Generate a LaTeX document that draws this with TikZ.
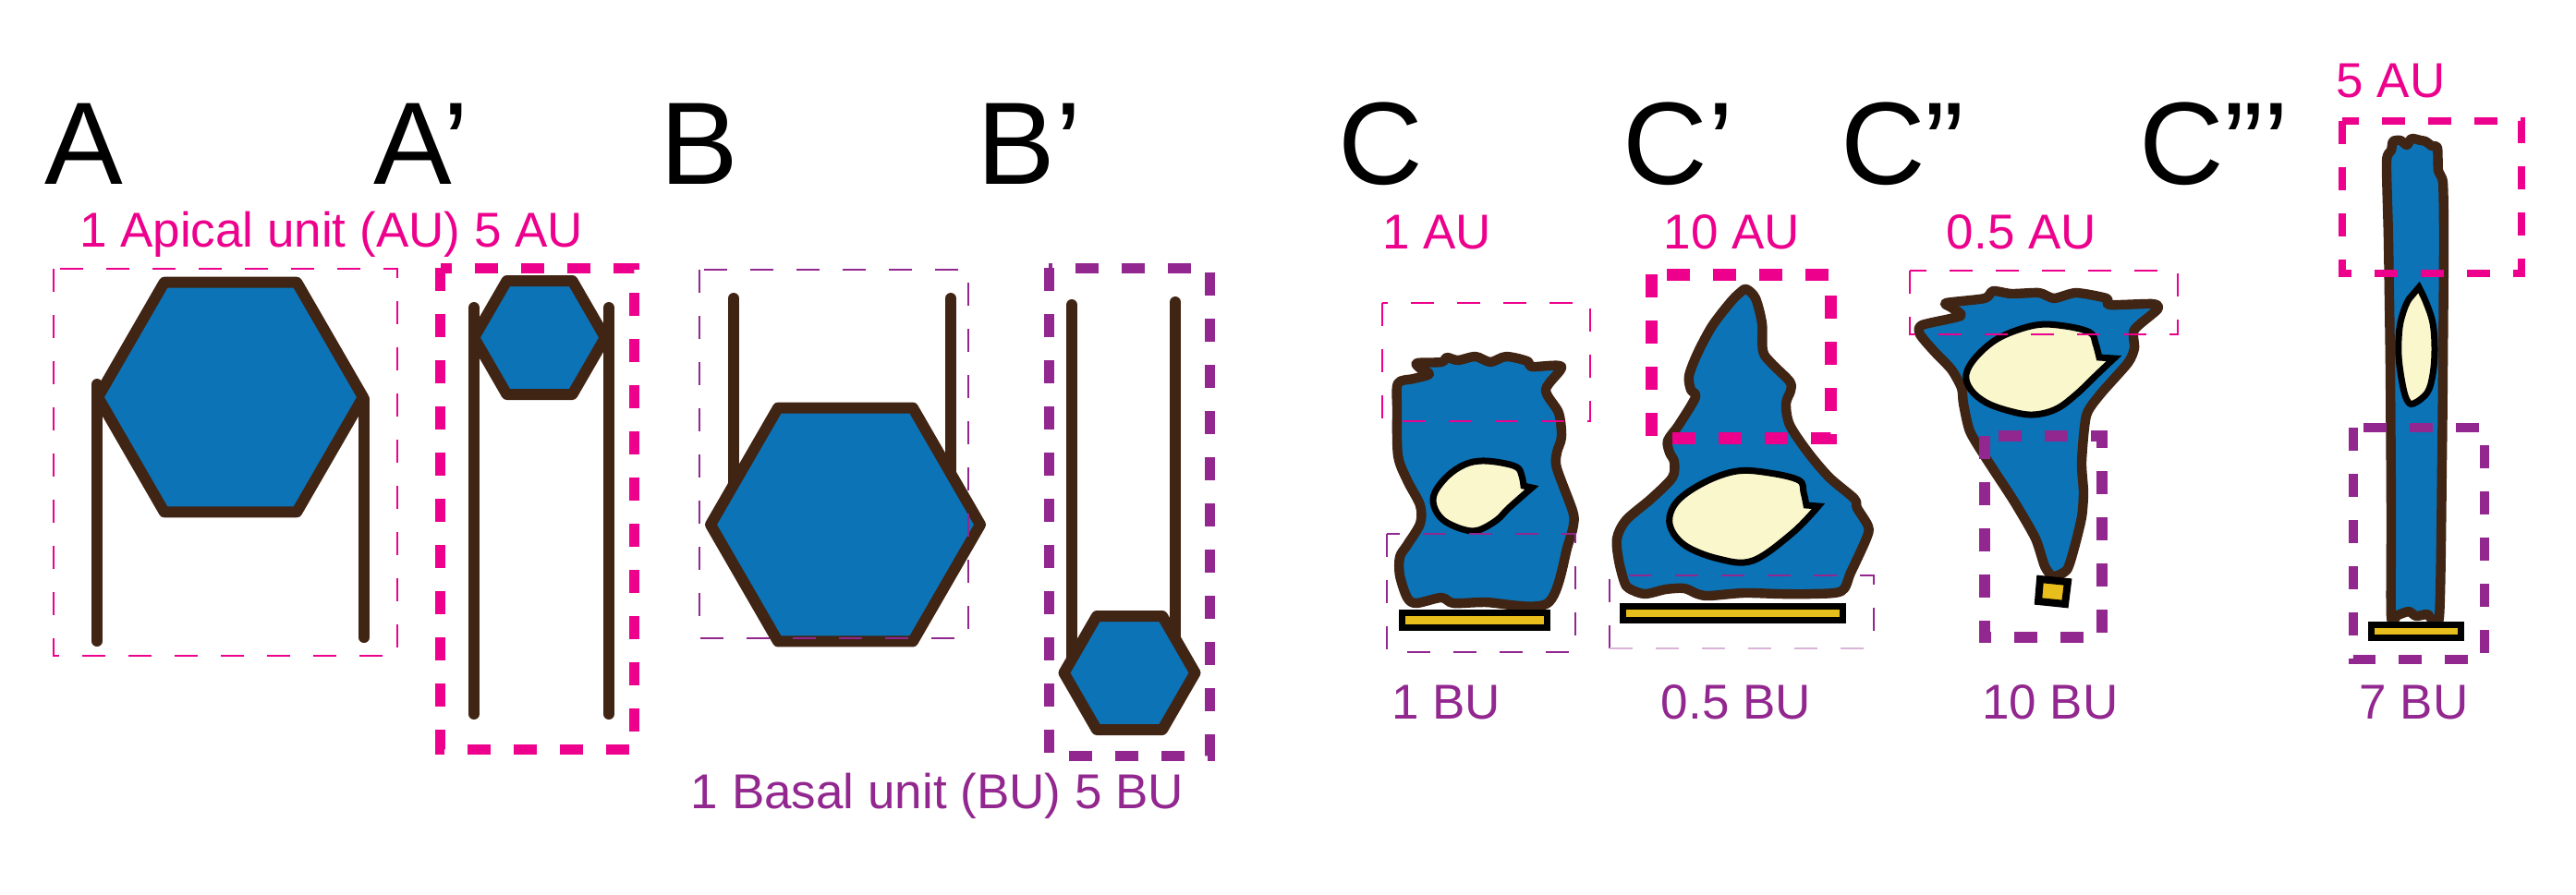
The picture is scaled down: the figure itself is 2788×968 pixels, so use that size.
\documentclass[tikz,border=0pt]{standalone}
\usepackage{fontspec}
\setmainfont{Liberation Sans}
\definecolor{cellblue}{RGB}{12,115,183}
\definecolor{brownc}{RGB}{64,36,20}
\definecolor{magentaU}{RGB}{236,0,140}
\definecolor{purpleU}{RGB}{146,39,143}
\definecolor{nucfill}{RGB}{250,247,204}
\definecolor{baryellow}{RGB}{232,190,28}
\newcommand\bigfont{\fontsize{31.75pt}{36pt}\selectfont}
\newcommand\unitfont{\fontsize{13.25pt}{16pt}\selectfont}
\newcommand\myhex[3]{%
  \draw[hexcell] ({#1+#3},#2) -- ({#1+0.5*#3},{#2-0.866*#3}) -- ({#1-0.5*#3},{#2-0.866*#3})
    -- ({#1-#3},#2) -- ({#1-0.5*#3},{#2+0.866*#3}) -- ({#1+0.5*#3},{#2+0.866*#3}) -- cycle;}
\tikzset{
  brownwire/.style={draw=brownc, line width=3pt, line cap=round},
  hexcell/.style={draw=brownc, fill=cellblue, line width=3pt, line join=round},
  cellshape/.style={draw=brownc, fill=cellblue, line width=2.6pt, line join=round},
  nucleus/.style={draw=black, fill=nucfill, line width=1.75pt, line join=miter},
  basalbar/.style={draw=black, fill=baryellow, line width=1.75pt},
  thinbox/.style={line width=0.4pt, dash pattern=on 6.25pt off 6.25pt},
  thickbox/.style={dash pattern=on 6.25pt off 6.25pt},
  biglabel/.style={font=\bigfont, anchor=base, inner sep=0pt},
  unitlabel/.style={font=\unitfont, anchor=base, inner sep=0pt},
}
\begin{document}
\begin{tikzpicture}[x=0.25pt,y=-0.25pt]
\useasboundingbox[fill=white] (0,0) rectangle (2788,968);

% ---------- panel letters ----------
\node[biglabel] (lA)   at (90.5,199) {A};
\node[biglabel] (lAp)  at (456,199) {A’};
\node[biglabel] (lB)   at (757,199) {B};
\node[biglabel] (lBp)  at (1114,199) {B’};
\node[biglabel] (lC)   at (1494,199) {C};
\node[biglabel] (lCp)  at (1816.5,199) {C’};
\node[biglabel] (lCpp) at (2059,199) {C”};
\node[biglabel] (lCppp) at (2397,199) {C”’};

% ---------- unit labels ----------
\node[unitlabel, text=magentaU] (tAU)  at (358.5,267) {1 Apical unit (AU) 5 AU};
\node[unitlabel, text=purpleU]  (tBU)  at (1014.5,875) {1 Basal unit (BU) 5 BU};
\node[unitlabel, text=magentaU] (tC1)  at (1555,269) {1 AU};
\node[unitlabel, text=magentaU] (tC2)  at (1874.5,269) {10 AU};
\node[unitlabel, text=magentaU] (tC3)  at (2188,269) {0.5 AU};
\node[unitlabel, text=magentaU] (tC4)  at (2587.5,105) {5 AU};
\node[unitlabel, text=purpleU]  (bC1)  at (1565,778) {1 BU};
\node[unitlabel, text=purpleU]  (bC2)  at (1879,778) {0.5 BU};
\node[unitlabel, text=purpleU]  (bC3)  at (2219,778) {10 BU};
\node[unitlabel, text=purpleU]  (bC4)  at (2612.5,778) {7 BU};

% ---------- A ----------
\draw[brownwire] (105,416) -- (105,694);
\draw[brownwire] (394,432) -- (394,690);
\myhex{249.5}{430}{143.5}
\draw[thinbox, magentaU] (58,291) rectangle (430,710);

% ---------- A' ----------
\draw[brownwire] (513,333) -- (513,773);
\draw[brownwire] (659,333) -- (659,773);
\myhex{584}{365.5}{71}
\draw[thickbox, magentaU, line width=2.75pt] (476.5,290) rectangle (686.5,811);

% ---------- B ----------
\draw[brownwire] (794,323) -- (794,540);
\draw[brownwire] (1029,323) -- (1029,530);
\myhex{915}{568}{146}
\draw[thinbox, purpleU] (757,292) rectangle (1048,691);

% ---------- B' ----------
\draw[brownwire] (1160,330) -- (1160,725);
\draw[brownwire] (1272,327) -- (1272,705);
\myhex{1222.5}{728.5}{71}
\draw[thickbox, purpleU, line width=2.75pt] (1135,290) rectangle (1309,818);

% ---------- C ----------
\draw[cellshape] plot[smooth cycle, tension=0.5] coordinates {
 (1513,415) (1530,410) (1547,405) (1536,398) (1534,393) (1560,392) (1566,387)
 (1578,390) (1597,386) (1613,392) (1630,386) (1653,391) (1658,397) (1690,397)
 (1673,422) (1687,447) (1690,473) (1685,490) (1685,507) (1702,553) (1703,568)
 (1697,590) (1675,653) (1607,652) (1573,653) (1560,647) (1533,653) (1523,647)
 (1515,623) (1515,603) (1523,590) (1537,567) (1537,547) (1523,520) (1513,493)
 (1512,443)};
\draw[nucleus] plot[smooth, tension=0.6] coordinates {
 (1658,528) (1633,550) (1620,563) (1600,574) (1583,573) (1562,563) (1552,548)
 (1553,533) (1567,515) (1585,503) (1603,499) (1625,501) (1642,506) (1647,515)
 (1649,526)} -- cycle;
\draw[basalbar] (1517,663) rectangle (1674,679);
\draw[thinbox, magentaU] (1496,328) rectangle (1721,456);
\draw[thinbox, purpleU] (1501,578) rectangle (1705,706);

% ---------- C' ----------
\draw[cellshape] plot[smooth cycle, tension=0.5] coordinates {
 (1890,313) (1900,323) (1907,350) (1908,380) (1917,393) (1937,413) (1938,423)
 (1933,437) (1937,460) (1957,490) (1980,517) (2007,540) (2010,550) (2022,570)
 (2020,583) (2003,620) (1993,640) (1960,643) (1927,643) (1887,642) (1850,645)
 (1837,643) (1823,637) (1803,638) (1780,643) (1763,637) (1758,630) (1752,607)
 (1750,583) (1760,563) (1787,540) (1810,517) (1812,500) (1807,490) (1805,477)
 (1817,460) (1835,430) (1830,422) (1828,407) (1837,383) (1853,353) (1873,327)
 (1883,317)};
\draw[nucleus] plot[smooth, tension=0.6] coordinates {
 (1968,548) (1940,577) (1897,607) (1860,605) (1823,590) (1807,567) (1815,543)
 (1845,522) (1880,510) (1915,512) (1947,520) (1952,533) (1955,547)} -- cycle;
\draw[basalbar] (1756,656) rectangle (1994,671);
\draw[thickbox, magentaU, line width=3.25pt] (1787,297) rectangle (1981,474);
\draw[thinbox, purpleU] (1742,702) -- (1742,623) -- (2028,623) -- (2028,702);
\draw[thinbox, purpleU!35] (1742,702) -- (2028,702);

% ---------- C'' ----------
\draw[cellshape] plot[smooth cycle, tension=0.4] coordinates {
 (2106,328) (2148,323) (2157,315) (2177,318) (2207,317) (2223,323) (2247,317)
 (2280,323) (2283,330) (2330,329) (2335,335) (2310,357) (2310,377) (2303,393)
 (2273,427) (2258,450) (2253,500) (2255,533) (2253,560) (2245,593) (2237,617)
 (2222,624) (2213,613) (2203,583) (2180,543) (2150,497) (2132,467) (2125,437)
 (2123,420) (2112,400) (2093,380) (2078,362) (2080,352) (2122,342) (2112,333)};
\draw[nucleus] plot[smooth, tension=0.6] coordinates {
 (2288,388) (2270,405) (2247,427) (2225,443) (2200,449) (2175,445) (2150,436)
 (2133,422) (2128,405) (2140,385) (2165,365) (2203,352) (2235,353) (2262,360)
 (2268,372) (2272,387)} -- cycle;
\draw[basalbar, line width=2pt] (2208,627) -- (2238,630) -- (2235,654) -- (2206,651) -- cycle;
\draw[thinbox, magentaU] (2067,293) rectangle (2357,362);
\draw[thickbox, purpleU, line width=3pt] (2148,472) rectangle (2275,690);

% ---------- C''' ----------
\draw[cellshape] plot[smooth cycle, tension=0.4] coordinates {
 (2583,175) (2588,163) (2590,153) (2598,152) (2605,157) (2610,150) (2620,152)
 (2625,153) (2632,158) (2638,160) (2639,185) (2644,198) (2645,260) (2644,400)
 (2643,500) (2640,668) (2627,665) (2615,667) (2607,662) (2595,666) (2588,668)
 (2588,560) (2587,400) (2585,260)};
\draw[nucleus] plot[smooth, tension=0.6] coordinates {
 (2618,311) (2626,328) (2633,350) (2635,378) (2633,405) (2627,425) (2612,437)
 (2605,433) (2600,415) (2596,385) (2597,355) (2602,335) (2607,324)} -- cycle;
\draw[basalbar] (2566,676) rectangle (2663,690);
\draw[thickbox, magentaU, line width=2pt] (2535,131) rectangle (2729,296);
\draw[thickbox, purpleU, line width=2.5pt] (2547,463) rectangle (2689,714);
\end{tikzpicture}
\end{document}
